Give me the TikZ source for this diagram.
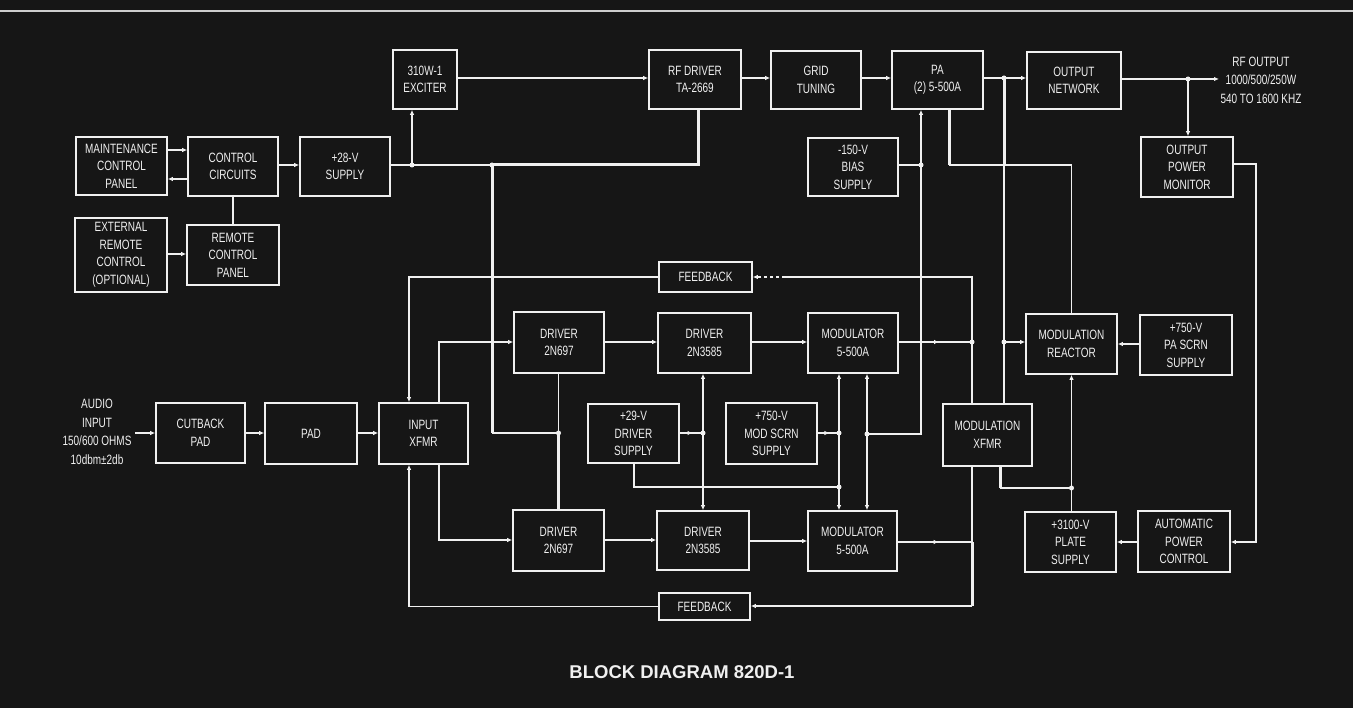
\documentclass[tikz,border=0pt]{standalone}
\usepackage{fontspec}
\setmainfont{Liberation Sans}[FakeStretch=0.74]
\newfontfamily\capfont{Liberation Sans}
\usetikzlibrary{arrows.meta,decorations.markings}
\definecolor{bg}{RGB}{22,22,22}
\definecolor{ink}{RGB}{240,240,240}
\definecolor{edge}{RGB}{205,205,205}
\tikzset{
  blk/.style={draw=ink, line width=1.6pt, fill=bg, text=ink, align=center, inner sep=1pt,
              font=\fontsize{13.5}{17.5}\selectfont},
  wire/.style={draw=ink, line width=1.4pt},
  thk/.style={draw=ink, line width=3pt},
  mid/.style={draw=ink, line width=2.2pt},
  arr/.style={-{Latex[length=5pt,width=4.5pt]}},
  jdot/.style={circle, fill=ink, inner sep=0pt, minimum size=5pt},
  lbl/.style={text=ink, align=center, font=\fontsize{13.5}{18.5}\selectfont},
  midarr/.style={postaction={decorate}, decoration={markings,
      mark=at position 0.55 with {\arrow{Latex[length=5pt,width=4.5pt]}}}},
}
\newcommand\bx[6]{\node[blk, minimum width={(#4)-(#2)}, minimum height={(#5)-(#3)}]
  (#1) at ({((#2)+(#4))/2},{((#3)+(#5))/2}) {#6};}
\begin{document}
\begin{tikzpicture}[x=1pt,y=-1pt]
\fill[bg] (0,0) rectangle (1353,708);
\useasboundingbox (0,0) rectangle (1353,708);
\draw[edge, line width=1.6pt] (0,11) -- (1353,11);

% ---------- boxes ----------
\bx{mcp}{76}{137}{167}{195}{MAINTENANCE\\CONTROL\\PANEL}
\bx{cc}{188}{137}{278}{196}{CONTROL\\CIRCUITS}
\bx{s28}{300}{137}{390}{196}{+28-V\\SUPPLY}
\bx{ext}{75}{218}{167}{292}{EXTERNAL\\REMOTE\\CONTROL\\(OPTIONAL)}
\bx{rcp}{187}{225}{279}{285}{REMOTE\\CONTROL\\PANEL}
\bx{exc}{393}{50}{457}{109}{310W-1\\EXCITER}
\bx{rfd}{649}{50}{741}{109}{RF DRIVER\\TA-2669}
\bx{gt}{771}{51}{861}{109}{GRID\\TUNING}
\bx{pa}{892}{51}{983}{109}{PA\\(2) 5-500A}
\bx{on}{1027}{52}{1121}{109}{OUTPUT\\NETWORK}
\bx{opm}{1141}{137}{1233}{197}{OUTPUT\\POWER\\MONITOR}
\bx{bias}{808}{138}{898}{196}{-150-V\\BIAS\\SUPPLY}
\bx{fb1}{659}{262}{752}{292}{FEEDBACK}
\bx{d1t}{514}{312}{604}{373}{DRIVER\\2N697}
\bx{d2t}{658}{313}{751}{373}{DRIVER\\2N3585}
\bx{m1}{808}{313}{898}{373}{MODULATOR\\5-500A}
\bx{mr}{1026}{314}{1117}{374}{MODULATION\\REACTOR}
\bx{pas}{1140}{315}{1232}{375}{+750-V\\PA SCRN\\SUPPLY}
\bx{cut}{156}{403}{245}{463}{CUTBACK\\PAD}
\bx{pad}{265}{403}{357}{464}{PAD}
\bx{ix}{379}{403}{468}{464}{INPUT\\XFMR}
\bx{s29}{588}{404}{679}{463}{+29-V\\DRIVER\\SUPPLY}
\bx{ms}{726}{403}{817}{464}{+750-V\\MOD SCRN\\SUPPLY}
\bx{mx}{943}{404}{1032}{466}{MODULATION\\XFMR}
\bx{d1b}{513}{510}{604}{571}{DRIVER\\2N697}
\bx{d2b}{657}{511}{749}{570}{DRIVER\\2N3585}
\bx{m2}{808}{511}{897}{571}{MODULATOR\\5-500A}
\bx{ps}{1025}{512}{1116}{572}{+3100-V\\PLATE\\SUPPLY}
\bx{apc}{1138}{511}{1230}{572}{AUTOMATIC\\POWER\\CONTROL}
\bx{fb2}{659}{593}{750}{620}{FEEDBACK}

% ---------- labels ----------
\node[lbl] (audio) at (97,432) {AUDIO\\INPUT\\150/600 OHMS\\10dbm±2db};
\node[lbl] (rfout) at (1261,80) {RF OUTPUT\\1000/500/250W\\540 TO 1600 KHZ};
\node[text=ink, font=\capfont\fontsize{18.5}{20}\bfseries\selectfont] (cap) at (682,672) {BLOCK DIAGRAM 820D-1};

% ---------- junction coordinates ----------
\coordinate (j1) at (412,165);
\coordinate (j2) at (492,165);
\coordinate (j3) at (558.5,433);
\coordinate (j4) at (1004,78);
\coordinate (j5) at (1188,79);
\coordinate (rfo) at (1219,79);
\coordinate (j6) at (921,165);
\coordinate (j7) at (867,434);
\coordinate (j8) at (1004,342);
\coordinate (j9) at (972,342);
\coordinate (j10) at (972,542);
\coordinate (j11) at (703,433);
\coordinate (j12) at (839,433);
\coordinate (j13) at (839,487);
\coordinate (j14) at (1071.5,488);
\coordinate (ain) at (135,433);

% ---------- left cluster ----------
\draw[wire,arr] (mcp.east |- 0,150) -- (cc.west |- 0,150);
\draw[wire,arr] (cc.west |- 0,179) -- (mcp.east |- 0,179);
\draw[wire,arr] (cc.east |- 0,165) -- (s28.west |- 0,165);
\draw[wire] (cc.south) -- (rcp.north -| cc.south);
\draw[wire,arr] (ext.east |- 0,254) -- (rcp.west |- 0,254);

% ---------- +28 V distribution ----------
\draw[wire] (s28.east |- j1) -- (j1) -- (j2);
\draw[wire,arr] (j1) -- (exc.south -| j1);
\draw[thk] (j2) -- (698,165) -- (rfd.south -| 698,0);
\draw[thk] (j2) -- (492,433);
\draw[wire] (492,433) -- (j3);
\draw[wire] (d1t.south -| j3) -- (j3);
\draw[thk] (j3) -- (d1b.north -| j3);

% ---------- RF chain ----------
\draw[wire,arr] (exc.east |- 0,78) -- (rfd.west |- 0,78);
\draw[wire,arr] (rfd.east |- 0,78) -- (gt.west |- 0,78);
\draw[wire,arr] (gt.east |- 0,78) -- (pa.west |- 0,78);
\draw[wire,arr] (pa.east |- j4) -- (on.west |- j4);
\draw[wire,arr] (on.east |- j5) -- (rfo);
\draw[wire,arr] (j5) -- (opm.north -| j5);

% ---------- bias / PA ----------
\draw[wire] (bias.east |- j6) -- (j6);
\draw[wire,arr] (j6) -- (pa.south -| j6);
\draw[mid] (j6) |- (j7);
\draw[thk] (pa.south -| 949,0) -- (949,165);
\draw[wire] (949,165) -| (mr.north);
\draw[thk] (j4) -- (1004,165);
\draw[wire] (1004,165) -- (j8) -- (mx.north -| j8);
\draw[wire,arr] (j8) -- (mr.west |- j8);

% ---------- audio chain ----------
\draw[wire,arr] (ain) -- (cut.west |- ain);
\draw[wire,arr] (cut.east |- 0,433) -- (pad.west |- 0,433);
\draw[wire,arr] (pad.east |- 0,433) -- (ix.west |- 0,433);
\draw[wire,arr] (ix.north -| 439,0) |- (d1t.west |- 0,342);
\draw[wire,arr] (d1t.east |- 0,342) -- (d2t.west |- 0,342);
\draw[wire,arr] (d2t.east |- 0,342) -- (m1.west |- 0,342);
\draw[wire,arr] (ix.south -| 439,0) |- (d1b.west |- 0,540);
\draw[wire,arr] (d1b.east |- 0,540) -- (d2b.west |- 0,540);
\draw[wire,arr] (d2b.east |- 0,541) -- (m2.west |- 0,541);

% ---------- feedback ----------
\draw[wire,midarr] (m1.east |- j9) -- (j9);
\draw[wire] (mx.north -| j9) -- (972,277) -- (785,277);
\draw[wire,dashed,arr] (785,277) -- (fb1.east |- 0,277);
\draw[wire,arr] (fb1.west) -| (ix.north -| 409,0);
\draw[wire] (mx.south -| j10) -- (j10);
\draw[wire,midarr] (m2.east |- j10) -- (j10);
\draw[thk] (j10) -- (972,606);
\draw[wire,arr] (972,606) -- (fb2.east |- 0,606);
\draw[wire,arr] (fb2.west) -| (ix.south -| 409,0);

% ---------- driver / modulator supplies ----------
\draw[wire,midarr] (s29.east |- j11) -- (j11);
\draw[wire,arr] (j11) -- (d2t.south -| j11);
\draw[wire,arr] (j11) -- (d2b.north -| j11);
\draw[wire,midarr] (ms.east |- j12) -- (j12);
\draw[wire,arr] (j12) -- (m1.south -| j12);
\draw[wire,arr] (j12) -- (m2.north -| j12);
\draw[wire] (s29.south -| 634,0) |- (j13);
\draw[wire,arr] (j7) -- (m1.south -| j7);
\draw[wire,arr] (j7) -- (m2.north -| j7);

% ---------- right side ----------
\draw[thk] (mx.south -| 1000,0) -- (1000,488);
\draw[wire] (1000,488) -- (j14);
\draw[wire,arr] (ps.north -| j14) -- (mr.south -| j14);
\draw[wire,arr] (pas.west |- 0,344) -- (mr.east |- 0,344);
\draw[wire,arr] (apc.west |- 0,542) -- (ps.east |- 0,542);
\draw[wire,arr] (opm.east |- 0,164) -| (1256,542) -- (apc.east |- 0,542);

% ---------- dots ----------
\foreach \j in {j1,j2,j3,j4,j5,j6,j7,j8,j9,j11,j12,j13,j14}
  \node[jdot] at (\j) {};
\end{tikzpicture}
\end{document}
